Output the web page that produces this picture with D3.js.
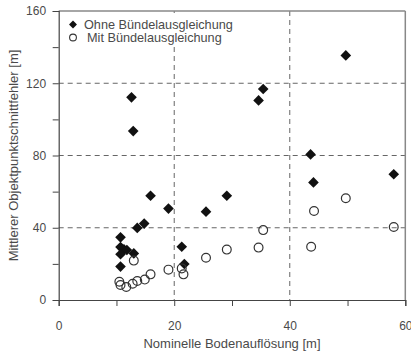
<!DOCTYPE html>
<html><head><meta charset="utf-8">
<script src="https://cdn.jsdelivr.net/npm/d3@7"></script>
<style>body{margin:0;background:#fff}svg{display:block}</style>
</head><body>
<script>
const ohneX = [12.6,12.9,15.9,19.0,14.8,13.6,10.7,10.7,11.3,11.8,10.7,13.0,10.7,21.3,21.75,25.5,29.1,34.6,35.4,43.6,44.1,49.7,58.0];
const ohneY = [112.2,93.5,57.7,50.6,42.3,39.9,34.7,29.3,28.0,27.7,25.3,25.8,18.5,29.5,19.9,48.9,57.7,110.5,116.8,80.6,65.1,135.4,69.6];
const mitX = [13.0,10.5,10.7,11.7,12.8,13.6,14.9,15.9,19.0,21.3,21.6,25.5,29.1,34.6,35.4,43.7,44.2,49.7,58.0];
const mitY = [21.8,10.1,8.3,7.2,9.0,10.5,11.3,14.2,16.8,17.5,14.2,23.4,27.9,29.0,38.7,29.5,49.3,56.3,40.4];
const xTicks = [0,20,40,60];
const xMinor = [10,30,50];
const yTicks = [0,40,80,120,160];
const yMinor = [20,60,100,140];
const gridX = [20,40];
const gridY = [40,80,120];
const seriesNames = ["Ohne Bündelausgleichung","Mit Bündelausgleichung"];
const xTitle = "Nominelle Bodenauflösung [m]";
const yTitle = "Mittlerer Objektpunktschnittfehler [m]";

const W=411,H=353;
const L=58.7,R=405.3,T=11,B=300;
const svg=d3.select("body").append("svg").attr("width",W).attr("height",H);
const x=d3.scaleLinear().domain([0,60]).range([L,R]);
const y=d3.scaleLinear().domain([0,160]).range([B,T]);
const font="Liberation Sans, Arial, sans-serif";
const gray="#4a4a4a";

svg.append("g").selectAll("line").data(gridY).join("line")
 .attr("x1",L).attr("x2",R).attr("y1",d=>y(d)).attr("y2",d=>y(d))
 .attr("stroke","#666").attr("stroke-width",1).attr("stroke-dasharray","5,4");
svg.append("g").selectAll("line").data(gridX).join("line")
 .attr("x1",d=>x(d)).attr("x2",d=>x(d)).attr("y1",T).attr("y2",B)
 .attr("stroke","#666").attr("stroke-width",1).attr("stroke-dasharray","5,4");

svg.append("line").attr("x1",L).attr("x2",R).attr("y1",T).attr("y2",T).attr("stroke","#888").attr("stroke-width",1.5);
svg.append("line").attr("x1",R).attr("x2",R).attr("y1",T).attr("y2",B).attr("stroke","#888").attr("stroke-width",1.5);

const xAxis=svg.append("g").attr("transform",`translate(0,${B})`)
 .call(d3.axisBottom(x).tickValues(xTicks.concat(xMinor)).tickSize(6).tickFormat(d=>xTicks.includes(d)?d:""));
const yAxis=svg.append("g").attr("transform",`translate(${L},0)`)
 .call(d3.axisLeft(y).tickValues(yTicks.concat(yMinor)).tickSize(6).tickFormat(d=>yTicks.includes(d)?d:""));
[xAxis,yAxis].forEach(a=>{
  a.select(".domain").attr("stroke","#444").attr("stroke-width",1.2);
  a.selectAll(".tick line").attr("stroke","#444");
  a.selectAll("text").attr("font-family",font).attr("font-size",12).attr("fill",gray);
});
xAxis.selectAll("text").attr("dy","1.75em");
yAxis.selectAll("text").attr("dx","-0.3em");

svg.append("rect").attr("x",66).attr("y",13).attr("width",172).attr("height",34).attr("fill","#fff");

const diamond=d3.symbol().type(d3.symbolDiamond2).size(72);
svg.append("g").selectAll("path").data(ohneX.map((v,i)=>[v,ohneY[i]])).join("path")
 .attr("d",diamond).attr("transform",d=>`translate(${x(d[0])},${y(d[1])})`).attr("fill","#111");
svg.append("g").selectAll("circle").data(mitX.map((v,i)=>[v,mitY[i]])).join("circle")
 .attr("cx",d=>x(d[0])).attr("cy",d=>y(d[1])).attr("r",4.4)
 .attr("fill","none").attr("stroke","#333").attr("stroke-width",1.2);

svg.append("path").attr("d",d3.symbol().type(d3.symbolDiamond2).size(40)).attr("transform","translate(73,24.5)").attr("fill","#111");
svg.append("circle").attr("cx",73).attr("cy",37.5).attr("r",3.4).attr("fill","none").attr("stroke","#333").attr("stroke-width",1.1);
svg.append("text").attr("x",84).attr("y",29).text(seriesNames[0]).attr("font-family",font).attr("font-size",12.7).attr("fill",gray);
svg.append("text").attr("x",87).attr("y",42).text(seriesNames[1]).attr("font-family",font).attr("font-size",12.7).attr("fill",gray);

svg.append("text").attr("x",(L+R)/2).attr("y",348).attr("text-anchor","middle").text(xTitle)
 .attr("font-family",font).attr("font-size",13).attr("fill",gray);
svg.append("text").attr("transform",`translate(18,${(T+B)/2}) rotate(-90)`).attr("text-anchor","middle").text(yTitle)
 .attr("font-family",font).attr("font-size",13).attr("fill",gray);
</script>
</body></html>
